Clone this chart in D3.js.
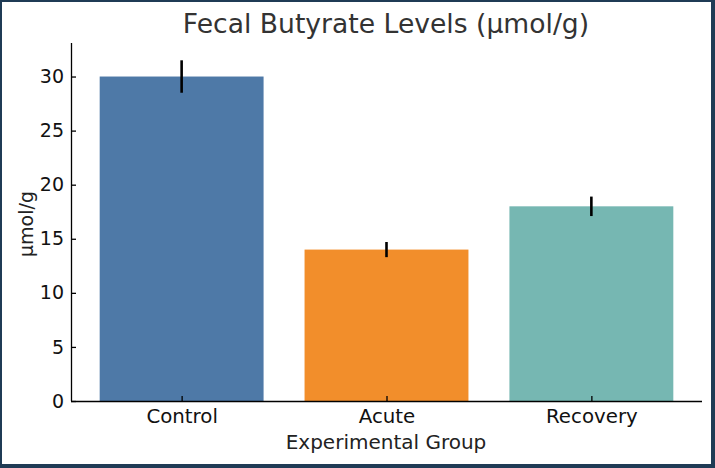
<!DOCTYPE html>
<html>
<head>
<meta charset="utf-8">
<script src="https://cdn.jsdelivr.net/npm/d3@7"></script>
<style>
  html, body { margin: 0; padding: 0; background: #fff; }
  svg text { font-family: "DejaVu Sans", sans-serif; }
</style>
</head>
<body>
<div class="chart"></div>
<script>
// Data
var groups = ["Control", "Acute", "Recovery"];
var butyrate = [30, 14, 18];
var errors = [1.5, 0.7, 0.9];
var colors = ["#4e79a7", "#f28e2b", "#76b7b2"];
var yTicks = [0, 5, 10, 15, 20, 25, 30];

// Configuration
var width = 715;
var height = 468;

var svg = d3.select(".chart").append("svg")
    .attr("width", width)
    .attr("height", height);

// frame round the picture
svg.append("rect")
    .attr("x", 1).attr("y", 1)
    .attr("width", width - 2.5).attr("height", height - 3)
    .attr("fill", "#fff")
    .attr("stroke", "#1f3b55")
    .attr("stroke-width", 2);
svg.append("rect")
    .attr("x", 0).attr("y", height - 4)
    .attr("width", width).attr("height", 4)
    .attr("fill", "#1f3b55");
svg.append("rect")
    .attr("x", width - 4).attr("y", 0)
    .attr("width", 4).attr("height", height)
    .attr("fill", "#1f3b55");

// Scales (bar positions like matplotlib: centres at 0,1,2, width 0.8)
var x = d3.scaleLinear()
    .domain([-0.54, 2.54])
    .range([71, 702]);
var y = d3.scaleLinear()
    .domain([0, 33.1])
    .range([401, 43]);
var barW = x(0.8) - x(0);

// Bars
svg.selectAll("rect.bar")
    .data(butyrate)
    .enter().append("rect")
    .attr("class", "bar")
    .attr("x", function(d, i) { return x(i - 0.4); })
    .attr("y", function(d) { return y(d); })
    .attr("width", barW)
    .attr("height", function(d) { return y(0) - y(d); })
    .attr("fill", function(d, i) { return colors[i]; });

// Error bars
svg.selectAll("line.err")
    .data(butyrate)
    .enter().append("line")
    .attr("class", "err")
    .attr("x1", function(d, i) { return x(i); })
    .attr("x2", function(d, i) { return x(i); })
    .attr("y1", function(d, i) { return y(d - errors[i]); })
    .attr("y2", function(d, i) { return y(d + errors[i]); })
    .attr("stroke", "#000")
    .attr("stroke-width", 2.6);

// Axes (ticks point inward)
var yAxis = d3.axisLeft(y)
    .tickValues(yTicks)
    .tickSizeInner(-5)
    .tickSizeOuter(0)
    .tickPadding(7);
var gy = svg.append("g")
    .attr("transform", "translate(71,0)")
    .call(yAxis);

var xAxis = d3.axisBottom(x)
    .tickValues([0, 1, 2])
    .tickFormat(function(d) { return groups[d]; })
    .tickSizeInner(-5)
    .tickSizeOuter(0)
    .tickPadding(8);
var gx = svg.append("g")
    .attr("transform", "translate(0,401)")
    .call(xAxis);

[gx, gy].forEach(function(g) {
  g.select(".domain").attr("stroke", "#000").attr("stroke-width", 1.3);
  g.selectAll(".tick line").attr("stroke", "#000").attr("stroke-width", 1.3);
  g.selectAll(".tick text")
    .attr("fill", "#111")
    .style("font-family", "DejaVu Sans, sans-serif");
});
gy.selectAll(".tick text").style("font-size", "19px");
gx.selectAll(".tick text").style("font-size", "19.8px");
gy.select(".domain").attr("d", "M0.5," + y.range()[0] + "V" + y.range()[1]);
gx.select(".domain").attr("d", "M" + x.range()[0] + ",0.5H" + x.range()[1]);

// Title and axis labels
svg.append("text")
    .attr("x", 386)
    .attr("y", 33)
    .attr("text-anchor", "middle")
    .attr("fill", "#333")
    .style("font-size", "26.6px")
    .text("Fecal Butyrate Levels (μmol/g)");

svg.append("text")
    .attr("x", 386)
    .attr("y", 449)
    .attr("text-anchor", "middle")
    .attr("fill", "#222")
    .style("font-size", "20px")
    .text("Experimental Group");

svg.append("text")
    .attr("transform", "translate(33,224) rotate(-90)")
    .attr("text-anchor", "middle")
    .attr("fill", "#222")
    .style("font-size", "19px")
    .text("μmol/g");
</script>
</body>
</html>
